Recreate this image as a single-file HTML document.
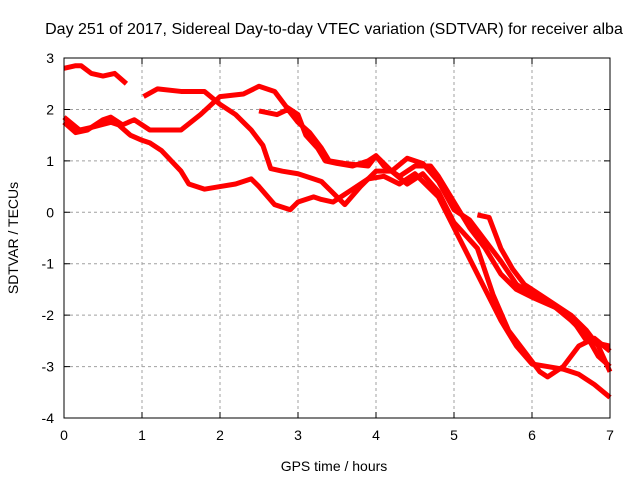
<!DOCTYPE html>
<html><head><meta charset="utf-8"><style>
body{margin:0;background:#fff}
svg{font-family:"Liberation Sans",sans-serif;font-size:14px}
</style></head><body>
<svg id="c" width="640" height="480">
<rect width="640" height="480" fill="#fff"/>
<text x="334" y="34" text-anchor="middle" font-size="16">Day 251 of 2017, Sidereal Day-to-day VTEC variation (SDTVAR) for receiver alba</text>
<text x="334" y="471" text-anchor="middle">GPS time / hours</text>
<text transform="translate(18,238) rotate(-90)" text-anchor="middle">SDTVAR / TECUs</text>
<g id="grid"></g><g id="series"></g>
<rect x="64" y="58" width="546" height="360" fill="none" stroke="#000" stroke-width="1"/>
</svg>
<script>
const xTicks=[0,1,2,3,4,5,6,7];
const yTicks=[3,2,1,0,-1,-2,-3,-4];
const seriesA=[[0,2.8],[0.15,2.85],[0.22,2.85],[0.35,2.7],[0.5,2.65],[0.65,2.7],[0.8,2.5]];
const seriesB=[[1.02,2.25],[1.2,2.4],[1.5,2.35],[1.8,2.35],[2.0,2.1],[2.2,1.9],[2.4,1.6],[2.55,1.3],[2.65,0.85],[2.8,0.8],[3.0,0.75],[3.2,0.65],[3.3,0.6],[3.5,0.3],[3.6,0.15],[3.8,0.5],[4.0,0.8],[4.2,0.8],[4.4,0.55],[4.6,0.75],[4.8,0.4],[5.0,-0.2],[5.3,-0.7],[5.5,-1.6],[5.7,-2.3],[5.9,-2.7],[6.1,-3.1],[6.2,-3.2],[6.4,-3.0],[6.6,-2.6],[6.8,-2.45],[7,-2.7]];
const seriesC=[[2.5,1.97],[2.73,1.9],[2.87,2.0],[3.0,1.75],[3.15,1.55],[3.3,1.25],[3.4,1.0],[3.6,0.95],[3.9,0.9],[4.0,1.1],[4.2,0.8],[4.4,1.05],[4.6,0.95],[4.8,0.6],[5.0,0.05],[5.2,-0.15],[5.4,-0.55],[5.6,-0.95],[5.8,-1.4],[6.0,-1.6],[6.3,-1.85],[6.5,-2.1],[6.7,-2.4],[6.85,-2.8],[7,-3.0]];
const seriesD1=[[0,1.75],[0.15,1.55],[0.3,1.6],[0.5,1.8],[0.6,1.85],[0.75,1.7],[0.9,1.8],[1.1,1.6],[1.3,1.6],[1.5,1.6],[1.75,1.9],[2.0,2.25],[2.3,2.3],[2.5,2.45],[2.7,2.35],[2.85,2.05],[3.0,1.9],[3.1,1.5],[3.25,1.25],[3.35,1.0],[3.5,0.95],[3.7,0.9],[3.9,1.0],[4.0,1.1],[4.1,0.9],[4.3,0.7],[4.5,0.9],[4.7,0.9],[4.8,0.7],[5.0,0.2],[5.2,-0.3],[5.4,-0.7],[5.6,-1.2],[5.8,-1.5],[6.0,-1.65],[6.3,-1.85],[6.5,-2.05],[6.7,-2.5],[6.85,-2.55],[7,-2.6]];
const seriesD2=[[0,1.85],[0.2,1.6],[0.35,1.65],[0.6,1.75],[0.7,1.7],[0.85,1.5],[1.0,1.4],[1.1,1.35],[1.25,1.2],[1.5,0.8],[1.6,0.55],[1.8,0.45],[2.0,0.5],[2.2,0.55],[2.4,0.65],[2.5,0.5],[2.7,0.15],[2.9,0.05],[3.0,0.2],[3.2,0.3],[3.3,0.25],[3.45,0.2],[3.55,0.3],[3.7,0.45],[3.9,0.65],[4.1,0.7],[4.3,0.55],[4.5,0.75],[4.6,0.6],[4.8,0.3],[5.0,-0.3],[5.2,-0.9],[5.4,-1.5],[5.6,-2.1],[5.8,-2.6],[6.0,-2.95],[6.2,-3.0],[6.4,-3.05],[6.6,-3.15],[6.8,-3.35],[7,-3.6]];
const seriesE=[[5.3,-0.05],[5.45,-0.1],[5.6,-0.7],[5.75,-1.1],[5.9,-1.4],[6.2,-1.7],[6.5,-2.0],[6.7,-2.3],[6.85,-2.6],[7,-3.1]];
const allSeries=[seriesA,seriesB,seriesC,seriesD1,seriesD2,seriesE];
const NS="http://www.w3.org/2000/svg";
const X=h=>64+h*78, Y=v=>212.3-v*360/7;
const g=document.getElementById('grid'), s=document.getElementById('series');
function mk(tag,attrs,parent){const e=document.createElementNS(NS,tag);for(const k in attrs)e.setAttribute(k,attrs[k]);parent.appendChild(e);return e;}
xTicks.forEach(t=>{
  if(t>0&&t<7){const l=mk('line',{x1:X(t),x2:X(t),y1:58,y2:418,stroke:'#a0a0a0','stroke-dasharray':'3,3'},g);
  
  }
  const tk=mk('path',{d:`M${X(t)},418v-6M${X(t)},58v6`,stroke:'#000'},g);
  
  
  const tx=mk('text',{x:X(t),y:440,'text-anchor':'middle'},g);tx.textContent=t;
  
  
});
yTicks.forEach(t=>{
  if(t<3&&t>-4){const l=mk('line',{x1:64,x2:610,y1:Y(t),y2:Y(t),stroke:'#a0a0a0','stroke-dasharray':'3,3'},g);
  
  }
  const tk=mk('path',{d:`M64,${Y(t)}h6M610,${Y(t)}h-6`,stroke:'#000'},g);
  
  
  const tx=mk('text',{x:54,y:Y(t)+5,'text-anchor':'end'},g);tx.textContent=t;
  
  
});
allSeries.forEach((d,i)=>{
  const p=mk('polyline',{points:d.map(q=>X(q[0])+','+Y(q[1])).join(' '),fill:'none',stroke:'#ff0000','stroke-width':5,'stroke-linejoin':'round','stroke-linecap':'butt'},s);
  
  
});
</script>
</body></html>
